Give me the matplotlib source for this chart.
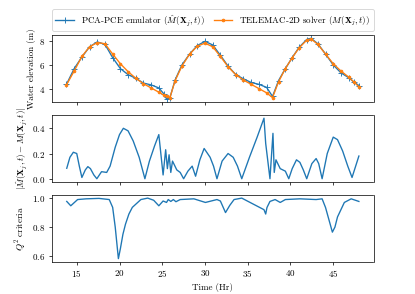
import numpy as np
import matplotlib
matplotlib.use("Agg")
from matplotlib import pyplot as plt

plt.rcParams['font.family'] = 'serif'
plt.rcParams['font.serif'] = ['cmr10']
plt.rcParams['mathtext.fontset'] = 'cm'
plt.rcParams['axes.formatter.use_mathtext'] = True

# temps (heures) pour le panneau du haut
t_top = [13.8, 14.7, 15.6, 16.5, 17.4, 18.3, 19.2, 20.1, 21.0, 21.9, 22.8, 23.7,
         24.6, 25.2, 25.5, 25.9, 26.5, 27.3, 28.2, 29.1, 30.0, 30.9, 31.8, 32.7,
         33.6, 34.5, 35.4, 36.3, 37.2, 37.9, 38.6, 39.4, 40.2, 41.0, 41.9, 42.4,
         43.2, 44.1, 45.0, 45.9, 46.8, 47.4, 48.0]
telemac = [4.35, 5.5, 6.7, 7.5, 7.85, 7.75, 6.9, 6.1, 5.45, 4.9, 4.45, 4.1,
           3.75, 3.5, 3.4, 3.3, 4.7, 5.9, 6.9, 7.55, 7.8, 7.5, 6.7, 5.85,
           5.2, 4.75, 4.4, 4.05, 3.7, 3.3, 4.6, 5.7, 6.6, 7.4, 8.05, 8.15,
           7.7, 6.9, 6.1, 5.5, 5.0, 4.6, 4.2]
emulator = [4.4, 5.7, 6.65, 7.5, 7.9, 7.7, 6.6, 5.7, 5.2, 4.9, 4.5, 4.35,
            4.1, 3.6, 3.2, 3.3, 4.75, 6.0, 6.9, 7.6, 7.95, 7.65, 6.8, 5.9,
            5.2, 4.85, 4.55, 4.4, 4.15, 3.4, 4.7, 5.7, 6.6, 7.45, 8.1, 8.2,
            7.75, 6.9, 6.0, 5.35, 4.95, 4.6, 4.3]

# erreur absolue
t_err = [13.83, 14.2, 14.6, 15.0, 15.3, 15.6, 16.0, 16.3, 16.6, 17.0, 17.35, 17.9,
         18.5, 18.9, 19.5, 20.0, 20.45, 21.0, 21.6, 22.3, 22.97, 23.5, 24.1, 24.6,
         25.1, 25.4, 25.6, 25.8, 26.0, 26.2, 26.7, 27.1, 27.5, 28.0, 28.5, 28.9,
         29.4, 29.9, 30.6, 31.0, 31.4, 32.0, 32.7, 33.3, 33.8, 34.3, 35.2, 36.1,
         36.9, 37.1, 37.6, 37.95, 38.1, 38.3, 38.8, 39.4, 39.8, 40.2, 40.7, 41.1,
         41.5, 41.9, 42.5, 43.0, 43.3, 43.7, 44.3, 45.0, 45.5, 46.1, 46.7, 47.2,
         48.0]
err = [0.083, 0.17, 0.21, 0.2, 0.1, 0.01, 0.07, 0.096, 0.08, 0.03, 0.0, 0.056,
       0.05, 0.1, 0.25, 0.35, 0.4, 0.38, 0.3, 0.17, 0.0, 0.14, 0.26, 0.35,
       0.03, 0.23, 0.08, 0.19, 0.05, 0.14, 0.07, 0.05, 0.0, 0.06, 0.1, 0.02,
       0.15, 0.24, 0.17, 0.1, 0.0, 0.14, 0.2, 0.17, 0.1, 0.0, 0.17, 0.33,
       0.48, 0.28, 0.0, 0.36, 0.05, 0.15, 0.08, 0.06, 0.0, 0.08, 0.15, 0.13,
       0.07, 0.0, 0.12, 0.16, 0.12, 0.0, 0.2, 0.33, 0.31, 0.22, 0.1, 0.01,
       0.18]

# critere Q2
t_q2 = [13.83, 14.3, 15.1, 16.1, 17.6, 18.8, 19.2, 19.5, 19.87, 20.1, 20.4, 20.7,
        21.1, 21.5, 22.5, 23.3, 24.0, 24.6, 25.1, 25.5, 25.7, 26.0, 26.3, 26.6,
        27.1, 28.7, 30.05, 31.4, 31.8, 32.1, 32.4, 32.9, 33.4, 34.3, 35.6, 36.9,
        37.1, 37.25, 37.6, 38.2, 38.8, 39.4, 41.1, 43.0, 43.7, 44.1, 44.5, 44.9,
        45.2, 45.5, 46.3, 47.1, 48.0]
q2 = [0.977, 0.947, 0.99, 0.995, 0.998, 0.99, 0.936, 0.8, 0.582, 0.65, 0.75, 0.82,
      0.89, 0.936, 0.99, 1.0, 0.985, 0.947, 0.98, 0.97, 0.99, 0.977, 0.99, 0.975,
      0.99, 0.995, 0.97, 0.99, 0.98, 0.94, 0.90, 0.95, 0.99, 1.0, 0.96, 0.92,
      0.89, 0.935, 0.977, 0.99, 0.97, 0.99, 0.995, 0.99, 0.995, 0.935, 0.85, 0.765,
      0.8, 0.87, 0.97, 0.995, 0.977]

fig, (ax1, ax2, ax3) = plt.subplots(3, 1, figsize=(415 / 65, 294 / 65), dpi=65, sharex=True)

ax1.plot(t_top, emulator, color='tab:blue', marker='+', ms=6,
         label=r'PCA-PCE emulator ($\hat{M}(\mathbf{X}_j,t)$)')
ax1.plot(t_top, telemac, color='tab:orange', marker='o', ms=3,
         label=r'TELEMAC-2D solver ($M(\mathbf{X}_j,t)$)')
ax1.set_ylabel('Water elevation (m)')
ax1.set_yticks([4, 6, 8])
ax1.legend(loc='lower left', bbox_to_anchor=(0, 1.06, 1, 0.2), mode='expand',
           ncol=2, borderaxespad=0)

ax2.plot(t_err, err, color='tab:blue')
ax2.set_ylabel(r'$|\hat{M}(\mathbf{X}_j,t)-M(\mathbf{X}_j,t)|$')
ax2.set_yticks([0.0, 0.2, 0.4])

ax3.plot(t_q2, q2, color='tab:blue')
ax3.set_ylabel(r'$Q^2$ criteria')
ax3.set_yticks([0.6, 0.8, 1.0])
ax3.set_xlabel('Time (Hr)')
ax3.set_xticks([15, 20, 25, 30, 35, 40, 45])

fig.savefig('out.png')
